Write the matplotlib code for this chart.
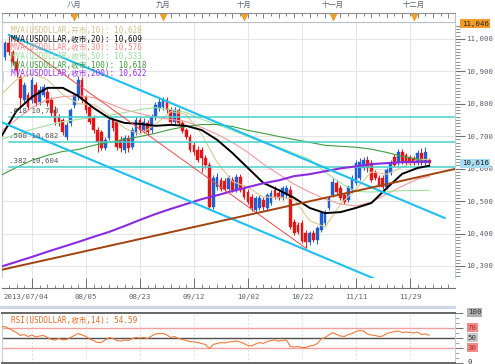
import matplotlib
matplotlib.use("Agg")
import matplotlib.pyplot as plt
from matplotlib.patches import Rectangle
import numpy as np

# ---------------- data ----------------
date_labels = ["2013/07/04", "08/05", "08/23", "09/12", "10/02", "10/22", "11/11", "11/29"]
date_idx = [0, 22, 36, 50, 64, 78, 92, 106]
month_labels = ["八月", "九月", "十月", "十一月", "十二月"]
month_idx = [19, 42, 63, 86, 107]

opens = [10864, 10944, 10988, 10960, 10929, 10883, 10812, 10827, 10812, 10858,
         10806, 10827, 10837, 10812, 10781, 10759, 10750, 10698, 10741, 10796,
         10821, 10874, 10821, 10790, 10756, 10719, 10713, 10664, 10695, 10750,
         10744, 10689, 10658, 10695, 10667, 10710, 10750, 10719, 10741, 10719,
         10759, 10787, 10790, 10812, 10781, 10744, 10781, 10741, 10719, 10698,
         10673, 10658, 10658, 10633, 10611, 10482, 10544, 10565, 10562, 10537,
         10565, 10534, 10574, 10540, 10528, 10513, 10473, 10479, 10503, 10479,
         10494, 10534, 10525, 10510, 10519, 10534, 10436, 10426, 10433, 10402,
         10374, 10402, 10380, 10411, 10433, 10479, 10519, 10556, 10540, 10519,
         10503, 10534, 10556, 10571, 10602, 10627, 10618, 10590, 10571, 10571,
         10544, 10587, 10636, 10618, 10652, 10642, 10636, 10633, 10618, 10648,
         10618, 10627]
highs = [10911, 10994, 11012, 10966, 10941, 10889, 10867, 10837, 10883, 10867,
         10855, 10861, 10849, 10821, 10793, 10769, 10756, 10744, 10787, 10833,
         10886, 10883, 10827, 10800, 10766, 10729, 10719, 10698, 10759, 10756,
         10750, 10701, 10704, 10704, 10729, 10759, 10759, 10756, 10750, 10769,
         10806, 10818, 10821, 10821, 10790, 10790, 10787, 10750, 10726, 10707,
         10682, 10670, 10667, 10642, 10621, 10581, 10587, 10574, 10571, 10581,
         10574, 10584, 10584, 10550, 10537, 10522, 10516, 10519, 10513, 10525,
         10534, 10547, 10537, 10547, 10550, 10547, 10445, 10436, 10442, 10411,
         10408, 10411, 10423, 10470, 10473, 10516, 10571, 10565, 10550, 10525,
         10550, 10581, 10627, 10633, 10636, 10639, 10627, 10596, 10581, 10581,
         10602, 10627, 10645, 10661, 10661, 10648, 10642, 10639, 10658, 10664,
         10667, 10633]
lows = [10858, 10935, 10951, 10920, 10883, 10790, 10803, 10781, 10803, 10793,
        10796, 10821, 10793, 10763, 10735, 10732, 10704, 10689, 10732, 10787,
        10812, 10803, 10772, 10738, 10710, 10652, 10658, 10658, 10689, 10716,
        10658, 10652, 10648, 10652, 10661, 10704, 10710, 10710, 10704, 10710,
        10750, 10778, 10781, 10772, 10738, 10738, 10735, 10710, 10692, 10652,
        10642, 10621, 10590, 10602, 10476, 10476, 10534, 10531, 10531, 10531,
        10528, 10528, 10528, 10507, 10491, 10470, 10466, 10473, 10473, 10470,
        10488, 10507, 10503, 10503, 10510, 10414, 10396, 10399, 10371, 10355,
        10365, 10374, 10368, 10405, 10423, 10473, 10513, 10522, 10503, 10491,
        10497, 10525, 10550, 10565, 10596, 10590, 10559, 10565, 10544, 10537,
        10537, 10581, 10605, 10611, 10614, 10611, 10611, 10611, 10611, 10611,
        10611, 10608]
closes = [10898, 10988, 10960, 10929, 10904, 10818, 10858, 10790, 10874, 10803,
          10843, 10852, 10803, 10772, 10744, 10744, 10713, 10735, 10781, 10827,
          10874, 10812, 10781, 10744, 10719, 10682, 10664, 10689, 10750, 10726,
          10667, 10664, 10695, 10664, 10719, 10750, 10719, 10744, 10713, 10759,
          10796, 10806, 10812, 10781, 10744, 10781, 10741, 10716, 10698, 10658,
          10652, 10627, 10633, 10611, 10482, 10571, 10574, 10537, 10537, 10571,
          10534, 10574, 10534, 10513, 10497, 10479, 10510, 10510, 10482, 10519,
          10525, 10513, 10510, 10540, 10540, 10420, 10402, 10405, 10377, 10374,
          10402, 10380, 10417, 10463, 10466, 10510, 10559, 10528, 10510, 10497,
          10544, 10571, 10618, 10621, 10627, 10602, 10565, 10571, 10550, 10544,
          10596, 10618, 10611, 10652, 10621, 10618, 10618, 10618, 10648, 10618,
          10652, 10616]

# moving averages sampled at these bar indices
ma_idx = [0, 4, 8, 12, 16, 20, 24, 28, 32, 36, 40, 44, 48, 52, 56, 60, 64, 68,
          72, 76, 80, 84, 88, 92, 96, 100, 104, 108, 111]
ma10_open = [10828, 10874, 10893, 10874, 10828, 10800, 10798, 10765, 10725, 10706,
             10736, 10776, 10767, 10706, 10620, 10560, 10543, 10512, 10512, 10506,
             10440, 10420, 10491, 10537, 10590, 10583, 10604, 10629, 10628]
ma20 = [10698, 10778, 10821, 10849, 10849, 10824, 10787, 10756, 10741, 10738,
        10732, 10735, 10732, 10719, 10689, 10648, 10602, 10556, 10534, 10510,
        10479, 10463, 10466, 10479, 10494, 10540, 10584, 10602, 10609]
ma30 = [10715, 10752, 10788, 10813, 10822, 10825, 10819, 10801, 10782, 10770,
        10758, 10752, 10745, 10727, 10706, 10681, 10650, 10614, 10583, 10552,
        10528, 10506, 10491, 10485, 10497, 10522, 10546, 10568, 10576]
ma50 = [10690, 10706, 10721, 10733, 10745, 10752, 10758, 10764, 10773, 10782,
        10788, 10782, 10773, 10752, 10736, 10718, 10699, 10681, 10666, 10647,
        10629, 10590, 10556, 10530, 10528, 10530, 10532, 10533, 10533]
ma100 = [10580, 10604, 10626, 10641, 10653, 10659, 10672, 10681, 10690, 10699,
         10709, 10721, 10730, 10736, 10736, 10730, 10718, 10709, 10699, 10690,
         10681, 10672, 10669, 10666, 10660, 10650, 10638, 10629, 10618]
ma200 = [10298, 10313, 10328, 10344, 10359, 10374, 10390, 10405, 10423, 10442,
         10460, 10476, 10491, 10506, 10518, 10531, 10543, 10555, 10564, 10577,
         10583, 10592, 10601, 10607, 10614, 10617, 10620, 10621, 10622]

legend_texts = ["MVA(USDOLLAR,开市,10): 10,628", "MVA(USDOLLAR,收市,20): 10,609",
                "MVA(USDOLLAR,收市,30): 10,576", "MVA(USDOLLAR,收市,50): 10,533",
                "MVA(USDOLLAR,收市,100): 10,618", "MVA(USDOLLAR,收市,200): 10,622"]

rsi = [71, 72, 68, 64, 60, 54, 56, 52, 55, 51, 53, 54, 50, 46, 45, 48, 45, 46, 50, 54,
       58, 55, 52, 47, 44, 40, 40, 45, 50, 48, 44, 43, 45, 44, 48, 50, 49, 50, 48, 53,
       57, 58, 58, 55, 50, 52, 48, 46, 44, 42, 41, 40, 38, 36, 28, 36, 38, 40, 39, 41,
       42, 43, 41, 38, 34, 33, 37, 40, 38, 42, 44, 45, 43, 44, 45, 32, 31, 32, 30, 30,
       33, 34, 38, 47, 50, 55, 60, 56, 53, 52, 56, 58, 62, 64, 63, 57, 55, 54, 52, 53,
       58, 60, 62, 63, 60, 61, 60, 59, 61, 56, 57, 54.59]
rsi_title = "RSI(USDOLLAR,收市,14): 54.59"

fib_levels = [10758, 10682, 10604]
fib_labels = [".618 10,758", ".500 10,682", ".382 10,604"]
fib_diag_x = [2, 79]
fib_diag_y = [11012, 10355]
chan_up_x = [2, 115]
chan_up_y = [11012, 10448]
chan_lo_x = [0, 115]
chan_lo_y = [10744, 10170]
trend_x = [0, 117.7]
trend_y = [10288, 10599]

yticks = [10300, 10400, 10500, 10600, 10700, 10800, 10900, 11000]
top_value = 11046
last_value = 10616
rsi_ticks = [0, 30, 50, 70, 100]

# ---------------- figure ----------------
W, H = 495, 364
fig = plt.figure(figsize=(W / 100, H / 100), dpi=100)
fig.patch.set_facecolor("white")
FONT = ["DejaVu Sans Mono", "Noto Sans CJK SC"]
TXT = "#5a6272"
FS = 5.3
YLO, YHI = 10263, 11052


def ax_px(l, t, r, b):
    return fig.add_axes([l / W, 1 - b / H, (r - l) / W, (b - t) / H])


XL = (0.23, 117.7)
n = len(closes)
idx = np.arange(n)
grid_x = [8] + date_idx[1:]

ax = ax_px(2, 22, 455, 278)
ax.set_xlim(*XL)
ax.set_ylim(YLO, YHI)
for s in ax.spines.values():
    s.set_color("#c6ced8")
    s.set_linewidth(0.8)

# grid
for v in yticks:
    ax.axhline(v, color="#e6e6e6", lw=0.8, zorder=0)
for d in grid_x:
    ax.axvline(d, color="#e6e6e6", lw=0.8, zorder=0)

# candles
o = np.array(opens); c = np.array(closes); h = np.array(highs); l = np.array(lows)
up = c >= o
cols = np.where(up, "#1f5fd0", "#e31515")
ax.vlines(idx, l, h, colors=cols, lw=0.7, zorder=2)
ax.bar(idx, np.maximum(np.abs(c - o), 2), bottom=np.minimum(o, c), width=0.72,
       color=cols, edgecolor=cols, lw=0.3, zorder=2)

# moving averages
ax.plot(ma_idx, ma10_open, color="#d9c894", lw=0.8, zorder=3)
ax.plot(ma_idx, ma30, color="#f29a9a", lw=0.8, zorder=3)
ax.plot(ma_idx, ma50, color="#9fe39f", lw=0.8, zorder=3)
ax.plot(ma_idx, ma100, color="#3f9f3f", lw=0.8, zorder=3)
ax.plot(ma_idx, ma20, color="black", lw=1.4, zorder=4)
ax.plot(ma_idx, ma200, color="#8a2be2", lw=1.5, zorder=4)

# fibonacci tool
for lev, lab in zip(fib_levels, fib_labels):
    ax.plot([fib_diag_x[0], XL[1]], [lev, lev], color="#45d2cc", lw=1.1, zorder=3)
    ax.text(fib_diag_x[0], lev + 10, lab, fontsize=FS, family=FONT, color="#555555",
            va="bottom", ha="left", zorder=6)
ax.plot(fib_diag_x, fib_diag_y, color="#f04848", lw=0.7, zorder=4)

# drawn lines
ax.plot(chan_up_x, chan_up_y, color="#1ec0f2", lw=1.5, zorder=5)
ax.plot(chan_lo_x, chan_lo_y, color="#1ec0f2", lw=1.5, zorder=5)
ax.plot(trend_x, trend_y, color="#a3420e", lw=1.4, zorder=5)

# legend text
leg_cols = ["#d3c08a", "#111111", "#f28a8a", "#98dc98", "#3a9a3a", "#9a30e8"]
for k, (t, col) in enumerate(zip(legend_texts, leg_cols)):
    ax.text(0.02, 0.985 - k * 0.034, t, transform=ax.transAxes, fontsize=5.5,
            family=FONT, color=col, va="top", ha="left", zorder=7)

# right axis
ax.yaxis.tick_right()
ax.set_yticks(yticks)
ax.set_yticklabels([f"{v:,}" for v in yticks])
ax.set_yticks(np.arange(10270, 11050, 10), minor=True)
ax.tick_params(axis="y", which="major", length=7, width=0.8, color="#707070",
               labelsize=FS, labelcolor=TXT, pad=1.2)
ax.tick_params(axis="y", which="minor", length=3.5, width=0.6, color="#808080")
for lbl in ax.get_yticklabels():
    lbl.set_family(FONT)
ax.set_xticks([])

# value boxes
for val, fc in [(top_value, "#f39c2a"), (last_value, "#a8dcf2")]:
    ax.text(1.015, (val - YLO) / (YHI - YLO), f"{val:,}", transform=ax.transAxes,
            fontsize=FS, family=FONT, color="#222222", va="center", ha="left",
            bbox=dict(boxstyle="square,pad=0.2", fc=fc, ec="none"), zorder=8,
            clip_on=False)

# ---------------- top strip ----------------
axt = ax_px(2, 13, 455, 22)
axt.set_xlim(*XL)
axt.set_ylim(0, 1)
axt.set_xticks([]); axt.set_yticks([])
for s in axt.spines.values():
    s.set_color("#b8c0c8"); s.set_linewidth(0.8)
axt.spines["top"].set_color("#909090")
minor = np.arange(0, 118, 2)
axt.vlines(minor, np.where(minor % 4 == 0, 0.45, 0.65), 1.0, color="#707070", lw=0.6)
axt.scatter(month_idx, [0.55] * len(month_idx), marker="v", s=22, color="#f4a021",
            edgecolors="#e08a10", linewidths=0.4, zorder=4)
tr = axt.get_xaxis_transform()
for mi, ml in zip(month_idx, month_labels):
    axt.text(mi, 1.9, ml, transform=tr, fontsize=FS, family=FONT, color=TXT,
             ha="center", va="center", clip_on=False)

# ---------------- bottom strip ----------------
axb = ax_px(2, 278, 455, 288)
axb.set_xlim(*XL)
axb.set_ylim(0, 1)
axb.set_xticks([]); axb.set_yticks([])
for s in axb.spines.values():
    s.set_visible(False)
axb.spines["bottom"].set_visible(True)
axb.spines["bottom"].set_color("#707070")
axb.vlines(minor, 0, np.where(minor % 4 == 0, 0.45, 0.3), color="#707070", lw=0.6)
axb.vlines(grid_x, 0, 1.0, color="#707070", lw=0.7)
trb = axb.get_xaxis_transform()
for k, (di, dl) in enumerate(zip(date_idx, date_labels)):
    axb.text(di if k else 0.5, -0.9, dl, transform=trb, fontsize=FS, family=FONT,
             color=TXT, ha="left" if k == 0 else "center", va="center", clip_on=False)

# separator
fig.patches.append(Rectangle((0, 1 - 308 / H), 455 / W, 2.5 / H, transform=fig.transFigure,
                             color="#cdd8e4", zorder=0))

# ---------------- RSI ----------------
axr = ax_px(2, 312.5, 455, 362.5)
axr.set_xlim(*XL)
axr.set_ylim(0, 100)
for s in ["left", "right"]:
    axr.spines[s].set_color("#c6ced8"); axr.spines[s].set_linewidth(0.8)
for s in ["top", "bottom"]:
    axr.spines[s].set_color("#666666"); axr.spines[s].set_linewidth(1.4)
for d in grid_x:
    axr.axvline(d, color="#dddddd", lw=0.7, ls=(0, (2, 2)), zorder=0)
axr.axhline(70, color="#f4a0a0", lw=1.0)
axr.axhline(30, color="#f4a0a0", lw=1.0)
axr.axhline(50, color="#505050", lw=1.0)
axr.plot(idx, rsi, color="#f07a3a", lw=0.8, zorder=3)
axr.text(0.02, 0.93, rsi_title, transform=axr.transAxes, fontsize=5.5, family=FONT,
         color="#e86a2a", va="top", ha="left")
axr.yaxis.tick_right()
axr.set_yticks(rsi_ticks)
axr.set_yticklabels([""] * len(rsi_ticks))
axr.set_yticks(np.arange(0, 101, 10), minor=True)
axr.tick_params(axis="y", which="major", length=6, width=0.7, color="#707070")
axr.tick_params(axis="y", which="minor", length=3, width=0.5, color="#808080")
axr.set_xticks([])
box_cols = {100: "#b0b0b0", 70: "#f08c8c", 50: "#c8c8c8", 30: "#f08c8c", 0: None}
txt_cols = {100: "#333333", 70: "#c02020", 50: "#333333", 30: "#c02020", 0: "#333333"}
for v in rsi_ticks:
    kw = {}
    if box_cols[v]:
        kw["bbox"] = dict(boxstyle="square,pad=0.15", fc=box_cols[v], ec="none")
    axr.text(1.028, v / 100, str(v), transform=axr.transAxes, fontsize=FS, family=FONT,
             color=txt_cols[v], va="center", ha="left", clip_on=False, **kw)

fig.savefig("out.png", dpi=100, facecolor="white")
